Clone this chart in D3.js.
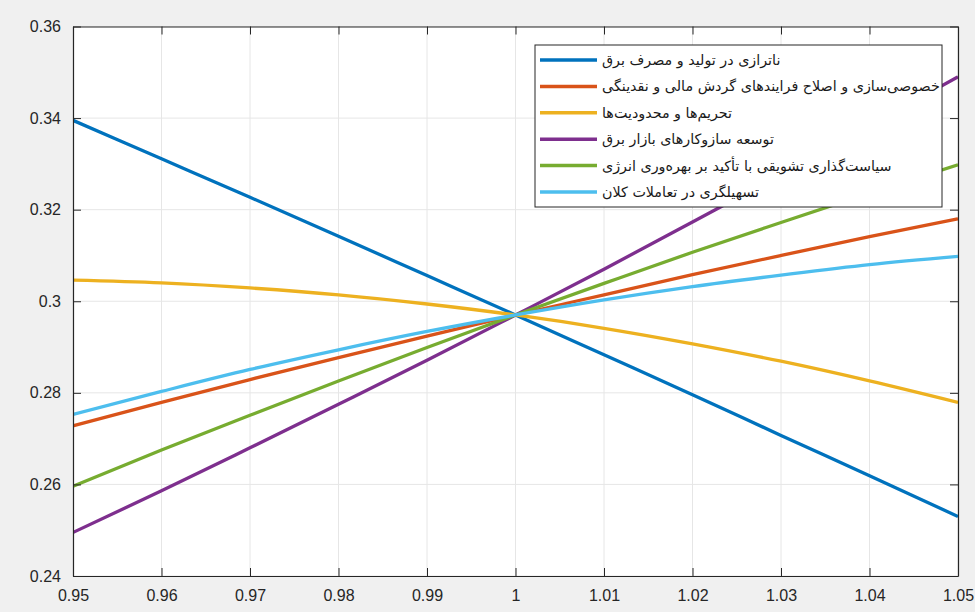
<!DOCTYPE html>
<html>
<head>
<meta charset="utf-8">
<script src="https://cdn.jsdelivr.net/npm/d3@7"></script>
<style>
  html, body { margin: 0; padding: 0; background: #f0f0f0; }
  svg { display: block; }
</style>
</head>
<body>
<script>
// ---- data ----
const xValues = [0.95, 0.96, 0.97, 0.98, 0.99, 1.00, 1.01, 1.02, 1.03, 1.04, 1.05];
const seriesNames = [
  "ناترازی در تولید و مصرف برق",
  "خصوصی‌سازی و اصلاح فرایندهای گردش مالی و نقدینگی",
  "تحریم‌ها و محدودیت‌ها",
  "توسعه سازوکارهای بازار برق",
  "سیاست‌گذاری تشویقی با تأکید بر بهره‌وری انرژی",
  "تسهیلگری در تعاملات کلان"
];
const blueVals   = [0.3395, 0.3311, 0.3227, 0.3142, 0.3056, 0.2970, 0.2883, 0.2796, 0.2707, 0.2619, 0.2530];
const orangeVals = [0.2728, 0.2779, 0.2829, 0.2877, 0.2924, 0.2970, 0.3014, 0.3058, 0.3100, 0.3141, 0.3180];
const yellowVals = [0.3046, 0.3040, 0.3029, 0.3014, 0.2994, 0.2970, 0.2941, 0.2907, 0.2869, 0.2826, 0.2779];
const purpleVals = [0.2495, 0.2586, 0.2680, 0.2775, 0.2871, 0.2970, 0.3070, 0.3173, 0.3277, 0.3383, 0.3490];
const greenVals  = [0.2596, 0.2675, 0.2751, 0.2826, 0.2899, 0.2970, 0.3039, 0.3107, 0.3172, 0.3236, 0.3298];
const cyanVals   = [0.2753, 0.2803, 0.2851, 0.2894, 0.2934, 0.2970, 0.3003, 0.3032, 0.3057, 0.3080, 0.3098];
const seriesColors = ["#0072BD", "#D95319", "#EDB120", "#7E2F8E", "#77AC30", "#4DBEEE"];
const xTicks = [0.95, 0.96, 0.97, 0.98, 0.99, 1.00, 1.01, 1.02, 1.03, 1.04, 1.05];
const xTickLabels = ["0.95", "0.96", "0.97", "0.98", "0.99", "1", "1.01", "1.02", "1.03", "1.04", "1.05"];
const yTicks = [0.24, 0.26, 0.28, 0.30, 0.32, 0.34, 0.36];
const yTickLabels = ["0.24", "0.26", "0.28", "0.3", "0.32", "0.34", "0.36"];

const allSeries = [blueVals, orangeVals, yellowVals, purpleVals, greenVals, cyanVals];

// ---- layout ----
const W = 975, H = 612;
const L = 73, R = 958, T = 26.5, B = 576;

const svg = d3.select("body").append("svg").attr("width", W).attr("height", H);
svg.append("rect").attr("width", W).attr("height", H).attr("fill", "#f0f0f0");

const x = d3.scaleLinear().domain([0.95, 1.05]).range([L, R]);
const y = d3.scaleLinear().domain([0.24, 0.36]).range([B, T]);

// plot background
svg.append("rect").attr("x", L).attr("y", T).attr("width", R - L).attr("height", B - T).attr("fill", "#ffffff");

// grid
const grid = svg.append("g");
grid.selectAll(".gx").data(xTicks).join("line")
  .attr("x1", d => x(d)).attr("x2", d => x(d)).attr("y1", T).attr("y2", B)
  .attr("stroke", "#e6e6e6").attr("stroke-width", 1);
grid.selectAll(".gy").data(yTicks).join("line")
  .attr("y1", d => y(d)).attr("y2", d => y(d)).attr("x1", L).attr("x2", R)
  .attr("stroke", "#e6e6e6").attr("stroke-width", 1);

// clip
svg.append("clipPath").attr("id", "clip").append("rect")
  .attr("x", L).attr("y", T).attr("width", R - L).attr("height", B - T);

const line = d3.line().x((d, i) => x(xValues[i])).y(d => y(d)).curve(d3.curveMonotoneX);
svg.append("g").attr("clip-path", "url(#clip)")
  .selectAll("path").data(allSeries).join("path")
  .attr("d", d => line(d))
  .attr("fill", "none")
  .attr("stroke", (d, i) => seriesColors[i])
  .attr("stroke-width", 3.3)
  .attr("stroke-linejoin", "round");

// axes (MATLAB-style: ticks inside, box on)
const axisColor = "#262626";
const tickLen = 8;
const fontFam = "'Liberation Sans', Arial, sans-serif";

const axB = d3.axisBottom(x).tickValues(xTicks).tickSizeInner(-tickLen).tickSizeOuter(0)
  .tickFormat((d, i) => xTickLabels[i]).tickPadding(14);
const axT = d3.axisTop(x).tickValues(xTicks).tickSizeInner(-tickLen).tickSizeOuter(0).tickFormat("");
const axL = d3.axisLeft(y).tickValues(yTicks).tickSizeInner(-tickLen).tickSizeOuter(0)
  .tickFormat((d, i) => yTickLabels[i]).tickPadding(12);
const axR = d3.axisRight(y).tickValues(yTicks).tickSizeInner(-tickLen).tickSizeOuter(0).tickFormat("");

function styleAxis(g) {
  g.select(".domain").attr("stroke", axisColor).attr("stroke-width", 1.2);
  g.selectAll(".tick line").attr("stroke", axisColor).attr("stroke-width", 1);
  g.selectAll(".tick text").attr("fill", axisColor).attr("font-family", fontFam).attr("font-size", 16);
}
svg.append("g").attr("transform", `translate(0,${B})`).call(axB).call(styleAxis);
svg.append("g").attr("transform", `translate(0,${T})`).call(axT).call(styleAxis);
svg.append("g").attr("transform", `translate(${L},0)`).call(axL).call(styleAxis);
svg.append("g").attr("transform", `translate(${R},0)`).call(axR).call(styleAxis);

// legend
const lgX = 535, lgY = 45, lgW = 407, lgH = 162, rowH = 26.4, row0 = 60;
const lg = svg.append("g");
lg.append("rect").attr("x", lgX).attr("y", lgY).attr("width", lgW).attr("height", lgH)
  .attr("fill", "#ffffff").attr("stroke", axisColor).attr("stroke-width", 1);
const rows = lg.selectAll("g.row").data(seriesNames).join("g").attr("class", "row")
  .attr("transform", (d, i) => `translate(0,${row0 + i * rowH})`);
rows.append("line").attr("x1", 540).attr("x2", 597).attr("y1", 0).attr("y2", 0)
  .attr("stroke", (d, i) => seriesColors[i]).attr("stroke-width", 3.5);
rows.append("text").attr("x", 602).attr("y", 0).attr("dy", "0.35em")
  .attr("font-family", "'DejaVu Sans', sans-serif").attr("font-size", 14.3)
  .attr("fill", "#1a1a1a")
  .text(d => d);
</script>
</body>
</html>
